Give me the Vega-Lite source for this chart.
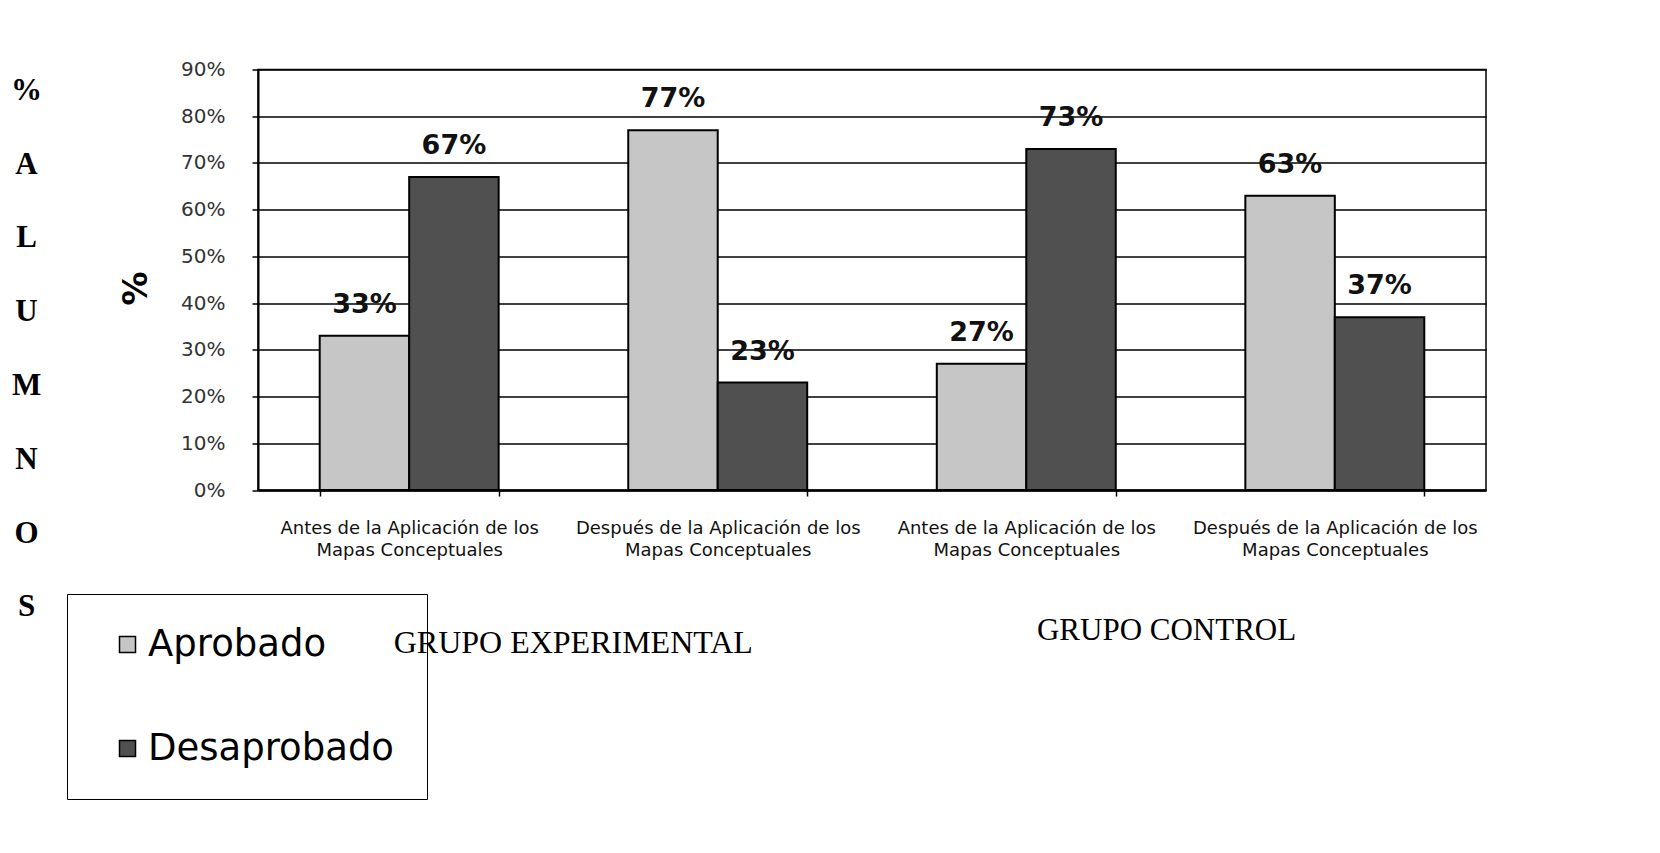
{
  "$schema": "https://vega.github.io/schema/vega-lite/v6.json",
  "autosize": {"type": "none"},
  "width": 1228,
  "height": 420.5,
  "padding": {"left": 258, "top": 69.5, "right": 174, "bottom": 363},
  "background": "white",
  "title": {
    "text": ["%", "A", "L", "U", "M", "N", "O", "S"],
    "orient": "left",
    "anchor": "middle",
    "angle": 0,
    "align": "center",
    "baseline": "middle",
    "lineHeight": 73.8,
    "font": "Liberation Serif",
    "fontSize": 31,
    "fontWeight": "bold",
    "color": "black",
    "offset": 9,
    "dy": -189,
    "frame": "group"
  },
  "config": {
    "view": {"stroke": "black", "strokeWidth": 1.5},
    "axis": {"grid": false}
  },
  "datasets": {
    "barras": [
      {"cat": "1|Antes de la Aplicación de los|Mapas Conceptuales", "grupo": "GRUPO EXPERIMENTAL", "estado": "Aprobado", "valor": 0.33},
      {"cat": "1|Antes de la Aplicación de los|Mapas Conceptuales", "grupo": "GRUPO EXPERIMENTAL", "estado": "Desaprobado", "valor": 0.67},
      {"cat": "2|Después de la Aplicación de los|Mapas Conceptuales", "grupo": "GRUPO EXPERIMENTAL", "estado": "Aprobado", "valor": 0.77},
      {"cat": "2|Después de la Aplicación de los|Mapas Conceptuales", "grupo": "GRUPO EXPERIMENTAL", "estado": "Desaprobado", "valor": 0.23},
      {"cat": "3|Antes de la Aplicación de los|Mapas Conceptuales", "grupo": "GRUPO CONTROL", "estado": "Aprobado", "valor": 0.27},
      {"cat": "3|Antes de la Aplicación de los|Mapas Conceptuales", "grupo": "GRUPO CONTROL", "estado": "Desaprobado", "valor": 0.73},
      {"cat": "4|Después de la Aplicación de los|Mapas Conceptuales", "grupo": "GRUPO CONTROL", "estado": "Aprobado", "valor": 0.63},
      {"cat": "4|Después de la Aplicación de los|Mapas Conceptuales", "grupo": "GRUPO CONTROL", "estado": "Desaprobado", "valor": 0.37}
    ]
  },
  "layer": [
    {
      "data": {"name": "barras"},
      "mark": {"type": "bar", "stroke": "black", "strokeWidth": 2},
      "encoding": {
        "x": {
          "field": "cat",
          "type": "nominal",
          "scale": {"paddingInner": 0.42, "paddingOuter": 0.2},
          "axis": {
            "title": null,
            "labelExpr": "slice(split(datum.value, '|'), 1, 3)",
            "labelAngle": 0,
            "labelFont": "DejaVu Sans",
            "labelFontSize": 18,
            "labelColor": "#111111",
            "labelLineHeight": 22,
            "labelBaseline": "top",
            "labelPadding": 23,
            "labelLimit": 0,
            "domainColor": "black",
            "domainWidth": 2,
            "tickBand": "extent",
            "ticks": true,
            "tickSize": 6,
            "tickColor": "black",
            "tickWidth": 1.5,
            "grid": false
          }
        },
        "xOffset": {"field": "estado", "type": "nominal"},
        "y": {
          "field": "valor",
          "type": "quantitative",
          "scale": {"domain": [0, 0.9], "nice": false},
          "axis": {
            "title": "%",
            "titleFont": "DejaVu Sans",
            "titleFontSize": 34,
            "titleFontWeight": "bold",
            "titleColor": "black",
            "titleAngle": -90,
            "titleX": -122,
            "titleY": 218.5,
            "titleAlign": "center",
            "titleBaseline": "middle",
            "values": [0, 0.1, 0.2, 0.3, 0.4, 0.5, 0.6, 0.7, 0.8, 0.9],
            "format": ".0%",
            "labelFont": "DejaVu Sans",
            "labelFontSize": 20,
            "labelColor": "#333333",
            "labelPadding": 27,
            "tickSize": 6,
            "tickColor": "black",
            "tickWidth": 1.5,
            "domainColor": "black",
            "domainWidth": 2,
            "grid": true,
            "gridColor": "black",
            "gridWidth": 1.5,
            "gridOpacity": 1
          }
        },
        "fill": {
          "field": "estado",
          "type": "nominal",
          "scale": {"domain": ["Aprobado", "Desaprobado"], "range": ["#c6c6c6", "#505050"]},
          "legend": {
            "orient": "none",
            "legendX": -191,
            "legendY": 524.5,
            "title": null,
            "strokeColor": "black",
            "padding": 32,
            "symbolOffset": 10,
            "labelOffset": 2,
            "rowPadding": 66,
            "labelFont": "DejaVu Sans",
            "labelFontSize": 37,
            "labelColor": "black",
            "labelLimit": 0,
            "symbolType": "square",
            "symbolSize": 256,
            "symbolStrokeColor": "black",
            "symbolStrokeWidth": 1.5
          }
        }
      }
    },
    {
      "data": {"name": "barras"},
      "mark": {"type": "text", "baseline": "alphabetic", "align": "center", "dy": -23, "font": "DejaVu Sans", "fontSize": 27, "fontWeight": "bold", "color": "#111111"},
      "encoding": {
        "x": {"field": "cat", "type": "nominal"},
        "xOffset": {"field": "estado", "type": "nominal"},
        "y": {"field": "valor", "type": "quantitative"},
        "text": {"field": "valor", "type": "quantitative", "format": ".0%"}
      }
    },
    {
      "data": {"values": [{"cat": "1|Antes de la Aplicación de los|Mapas Conceptuales", "grupo": "GRUPO EXPERIMENTAL"}]},
      "mark": {"type": "text", "baseline": "alphabetic", "align": "center", "font": "Liberation Serif", "fontSize": 32, "color": "black"},
      "encoding": {
        "x": {"field": "cat", "type": "nominal", "bandPosition": 1.417},
        "y": {"datum": -0.349, "type": "quantitative"},
        "text": {"field": "grupo", "type": "nominal"}
      }
    },
    {
      "data": {"values": [{"cat": "3|Antes de la Aplicación de los|Mapas Conceptuales", "grupo": "GRUPO CONTROL"}]},
      "mark": {"type": "text", "baseline": "alphabetic", "align": "center", "font": "Liberation Serif", "fontSize": 31, "color": "black"},
      "encoding": {
        "x": {"field": "cat", "type": "nominal", "bandPosition": 1.284},
        "y": {"datum": -0.321, "type": "quantitative"},
        "text": {"field": "grupo", "type": "nominal"}
      }
    }
  ]
}
